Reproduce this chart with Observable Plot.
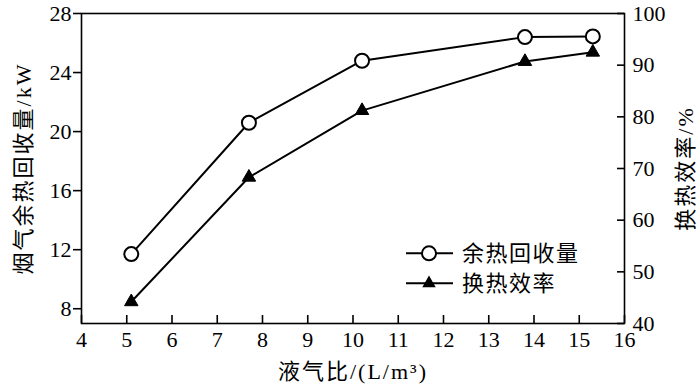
<!DOCTYPE html>
<html>
<head>
<meta charset="utf-8">
<script src="https://cdn.jsdelivr.net/npm/d3@7"></script>
<script src="https://cdn.jsdelivr.net/npm/@observablehq/plot@0.6"></script>
<style>
  html, body { margin: 0; padding: 0; background: #fff; }
  #chart { position: relative; width: 700px; height: 389px; }
  #chart svg text { font-family: "Liberation Serif", "Noto Sans CJK SC", serif; fill: #000; }
  #chart g[aria-label$="axis label"] text { font-size: 22px; letter-spacing: 2px; font-family: "Liberation Serif", "Noto Sans CJK SC", serif; }
  #legend { position: absolute; left: 400px; top: 235px; }
  #legend text { font-family: "Noto Sans CJK SC", sans-serif; font-size: 22px; letter-spacing: 1.5px; }
</style>
</head>
<body>
<div id="chart"></div>
<script>
// ---- data ----
const ratio = [5.1, 7.7, 10.2, 13.8, 15.3];            // 液气比 (L/m3)
const heatRecovery = [11.7, 20.6, 24.8, 26.4, 26.45];  // 余热回收量 kW (left axis)
const efficiency = [44.2, 68.3, 81.2, 90.7, 92.5];     // 换热效率 % (right axis)
const xTicks = [4, 5, 6, 7, 8, 9, 10, 11, 12, 13, 14, 15, 16];
const leftTicks = [8, 12, 16, 20, 24, 28];
const rightTicks = [40, 50, 60, 70, 80, 90, 100];
const seriesNames = ["余热回收量", "换热效率"];

// ---- layout ----
const W = 700, H = 389;
const mL = 81, mR = 76, mT = 13, mB = 66;
const frameW = W - mL - mR, frameH = H - mT - mB;

// right axis (40..100) mapped onto left scale (7..28)
const leftDomain = [7, 28], rightDomain = [40, 100];
const toLeft = p => leftDomain[0] + (p - rightDomain[0]) * (leftDomain[1] - leftDomain[0]) / (rightDomain[1] - rightDomain[0]);
const fromLeft = v => rightDomain[0] + (v - leftDomain[0]) * (rightDomain[1] - rightDomain[0]) / (leftDomain[1] - leftDomain[0]);

const recData = ratio.map((x, i) => ({x, y: heatRecovery[i]}));
const effData = ratio.map((x, i) => ({x, y: toLeft(efficiency[i])}));

const chart = Plot.plot({
  width: W, height: H,
  marginLeft: mL, marginRight: mR, marginTop: mT, marginBottom: mB,
  style: {fontSize: "22px", fontFamily: "Liberation Serif, serif", color: "#000", background: "#fff"},
  x: {domain: [4, 16]},
  y: {domain: leftDomain},
  marks: [
    Plot.frame({stroke: "#000", strokeWidth: 1.6}),
    Plot.axisX(xTicks, {anchor: "bottom", tickSize: 0, tickPadding: 8, fontSize: 22, tickFormat: d => String(d),
      label: "液气比/(L/m³)", labelAnchor: "center", labelOffset: 55, labelArrow: "none"}),
    Plot.axisY(leftTicks, {anchor: "left", tickSize: 8, tickPadding: 2, fontSize: 22, strokeWidth: 1.6, tickFormat: d => String(d),
      label: "烟气余热回收量/kW", labelAnchor: "center", labelOffset: 66, labelArrow: "none"}),
    Plot.axisY(rightTicks.map(toLeft), {anchor: "right", tickSize: 0, tickPadding: 8, fontSize: 22,
      tickFormat: d => String(Math.round(fromLeft(d))),
      label: "换热效率/%", labelAnchor: "center", labelOffset: 68, labelArrow: "none"}),
    Plot.tickX(xTicks, {x: d => d, insetTop: frameH - 8, stroke: "#000", strokeWidth: 1.6}),
    Plot.tickY(rightTicks.map(toLeft), {y: d => d, insetLeft: frameW - 7, stroke: "#000", strokeWidth: 1.6}),
    Plot.line(effData, {x: "x", y: "y", stroke: "#000", strokeWidth: 2}),
    Plot.line(recData, {x: "x", y: "y", stroke: "#000", strokeWidth: 2}),
    Plot.dot(effData, {x: "x", y: "y", symbol: "triangle", r: 5, fill: "#000", stroke: "#000", strokeWidth: 1}),
    Plot.dot(recData, {x: "x", y: "y", r: 7, fill: "#fff", stroke: "#000", strokeWidth: 2})
  ]
});
const container = document.getElementById("chart");
container.appendChild(chart);

// ---- legend ----
const leg = d3.select(container).append("svg").attr("id", "legend").attr("width", 200).attr("height", 70);
const rows = [{name: seriesNames[0], sym: "circle", cy: 18.3}, {name: seriesNames[1], sym: "triangle", cy: 48.3}];
rows.forEach(r => {
  leg.append("line").attr("x1", 6).attr("x2", 53).attr("y1", r.cy).attr("y2", r.cy).attr("stroke", "#000").attr("stroke-width", 2);
  if (r.sym === "circle") {
    leg.append("circle").attr("cx", 29).attr("cy", r.cy).attr("r", 7).attr("fill", "#fff").attr("stroke", "#000").attr("stroke-width", 2);
  } else {
    leg.append("path").attr("d", d3.symbol(d3.symbolTriangle, 25 * Math.PI)()).attr("transform", `translate(29,${r.cy})`).attr("fill", "#000");
  }
  leg.append("text").attr("x", 62).attr("y", r.cy).attr("dominant-baseline", "central").text(r.name);
});
</script>
</body>
</html>
